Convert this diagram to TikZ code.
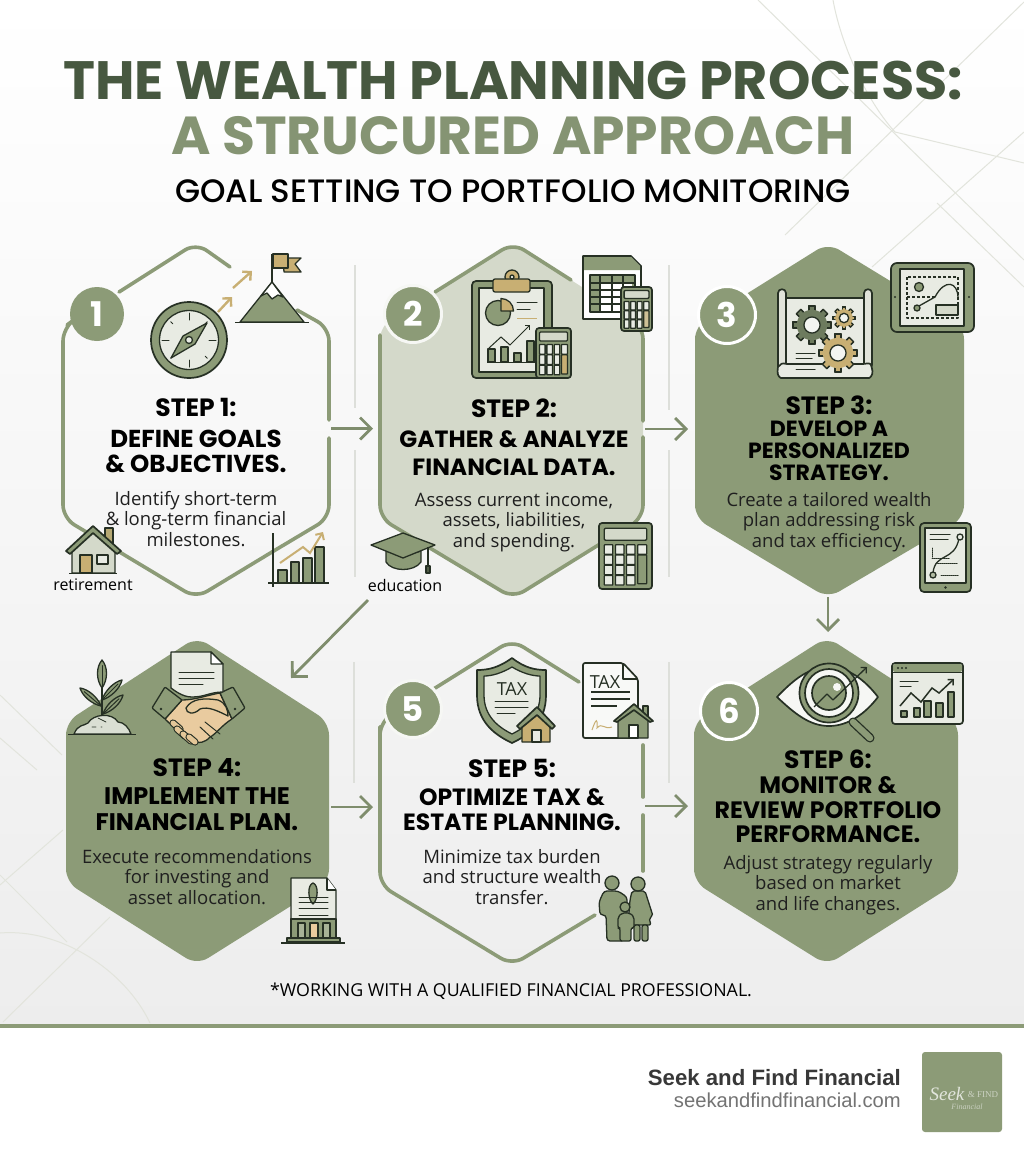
\documentclass[tikz,border=0pt]{standalone}
\usepackage{fontspec}
\usetikzlibrary{arrows.meta,calc}
\setmainfont{Poppins}[BoldFont=* Bold]
\newfontfamily\bodyf{Open Sans}
\newfontfamily\medf{Poppins}[UprightFont=* Medium]
\newfontfamily\footf{Liberation Sans}
\newfontfamily\serifscr{Liberation Serif}
\definecolor{sage}{HTML}{8C9B77}
\definecolor{sagepale}{HTML}{D4D9CA}
\definecolor{dk}{HTML}{263024}
\definecolor{titledk}{HTML}{475840}
\definecolor{titlelt}{HTML}{859473}
\definecolor{tanc}{HTML}{C8AF73}
\definecolor{peach}{HTML}{E9CB9F}
\definecolor{pale}{HTML}{E8EBE3}
\definecolor{arrowc}{HTML}{7F8D6D}
\definecolor{faint}{HTML}{E2E4DC}
\definecolor{sep}{HTML}{DDDFDA}
\tikzset{
  hexline/.style={draw=sage,line width=3.6pt,rounded corners=13pt,line cap=round},
  hexfill/.style={fill=sage,rounded corners=13pt},
  conn/.style={draw=arrowc,line width=2.8pt,-{Straight Barb[length=11pt,width=22pt,line width=2.8pt]}},
  bgline/.style={draw=faint,line width=1pt},
  sepline/.style={draw=sep,line width=1.4pt},
  badge/.style={circle,fill=sage,text=white,minimum size=54pt,inner sep=0pt,font=\fontsize{34}{34}\selectfont\bfseries},
  ringbadge/.style={badge,draw=white,line width=3pt,minimum size=57pt},
  stephead/.style={font=\fontsize{25}{25}\selectfont\bfseries,text=black,inner sep=0pt},
  steptitle/.style={font=\fontsize{24}{26}\selectfont\bfseries,text=black,align=center,inner sep=0pt},
  stepbody/.style={font=\bodyf\fontsize{18.5}{20.5}\selectfont,text=black!88,align=center,inner sep=0pt},
  ol/.style={draw=dk,line width=1.3pt,line join=round},
  olb/.style={draw=dk,line width=1.7pt,line join=round},
  thin/.style={draw=dk,line width=1pt,line cap=round},
  iconlabel/.style={font=\bodyf\fontsize{16}{16}\selectfont,text=black,inner sep=0pt},
}
% leaf between two points
\newcommand\leafw[6]{\draw[ol,fill=#6] (#1,#2) .. controls ($(#1,#2)!.3!(#3,#4)!#5pt!90:(#3,#4)$) and ($(#1,#2)!.75!(#3,#4)!#5pt!90:(#3,#4)$) .. (#3,#4) .. controls ($(#1,#2)!.75!(#3,#4)!#5pt!-90:(#3,#4)$) and ($(#1,#2)!.3!(#3,#4)!#5pt!-90:(#3,#4)$) .. cycle;
\draw[thin] (#1,#2) -- ($(#1,#2)!.8!(#3,#4)$);}
% gear: cx cy r fill
\newcommand\gearic[4]{%
  \foreach \a in {0,45,...,315}{%
    \draw[ol,fill=#4,rotate around={\a:(#1,#2)}] ({#1-#3*.2},{#2-#3*1.22}) rectangle ({#1+#3*.2},{#2+#3*1.22});}
  \fill[#4] (#1,#2) circle ({#3*.98});
  \draw[ol,fill=white!90!sage] (#1,#2) circle ({#3*.52});}
% calculator: x y w h tallcolor rows
\newcommand\calcic[6]{%
  \begin{scope}[shift={(#1,#2)},x=#3pt,y=-#4pt]
    \draw[olb,fill=sage,rounded corners=3pt] (0,0) rectangle (1,1);
    \draw[ol,fill=sagepale,rounded corners=1pt] (.1,.08) rectangle (.9,.26);
    \pgfmathsetmacro\kh{.58/#6}
    \foreach \r in {1,...,#6}{%
      \pgfmathsetmacro\yy{.33+(\r-1)*.62/#6}
      \foreach \c in {0,1,2}{%
        \pgfmathsetmacro\xx{.1+\c*.21}
        \draw[ol,fill=pale,rounded corners=.5pt] (\xx,\yy) rectangle ({\xx+.16},{\yy+\kh});}}
    \draw[ol,fill=pale,rounded corners=.5pt] (.73,.33) rectangle (.9,{.33+\kh});
    \draw[ol,fill=#5,rounded corners=.5pt] (.73,{.33+.62/#6}) rectangle (.9,{.33+.62-.03});
  \end{scope}}
\newcommand\fingers[4]{\draw[dk,line width=7.2pt,line cap=round] (#1,#2) -- (#3,#4); \draw[peach!85!tanc,line width=5pt,line cap=round] (#1,#2) -- (#3,#4);}
\begin{document}
\begin{tikzpicture}[x=1pt,y=-1pt]
\useasboundingbox (0,0) rectangle (1024,1154);
% ---------- background
\shade[shading angle=70,top color=white,bottom color=black!7!white] (0,0) rectangle (1024,1026);
\fill[white] (0,1027) rectangle (1024,1154);
\fill[sage] (0,1024) rectangle (1024,1027.5);
% faint lines
\draw[bgline] (758,0) -- (1024,260);
\draw[bgline] (833,0) .. controls (842,50) and (870,105) .. (895,132);
\draw[bgline] (1024,2) -- (785,235);
\draw[bgline] (895,132) -- (1024,163);
\draw[bgline] (1024,132) -- (872,267);
\draw[bgline] (937,203) -- (1024,287);
\draw[bgline] (0,695) -- (62,755);
\draw[bgline] (0,738) -- (37,770);
\draw[bgline] (63,830) -- (0,885);
\draw[bgline] (0,875) -- (67,942);
\draw[bgline] (110,917) -- (3,1022);
\draw[bgline] (0,933) .. controls (60,928) and (125,970) .. (150,1023);
% separators
\draw[sepline] (355,265) -- (355,408);
\draw[sepline] (355,450) -- (355,577);
\draw[sepline] (669,265) -- (669,410);
\draw[sepline] (669,450) -- (669,577);
\draw[sepline] (354,662) -- (354,783);
\draw[sepline] (669,662) -- (669,783);
% ---------- hexagon fills
\path[hexfill,fill=sagepale] (513,243) -- (643,326) -- (643,518) -- (513,598) -- (380,518) -- (380,326) -- cycle;
\path[hexfill] (828,243) -- (964,326) -- (964,518) -- (828,598) -- (695,518) -- (695,326) -- cycle;
\path[hexfill] (197,637) -- (329,722) -- (329,882) -- (197,965) -- (66,882) -- (66,722) -- cycle;
\path[hexfill] (827,637) -- (958,722) -- (958,882) -- (827,965) -- (694,882) -- (694,722) -- cycle;
% ---------- hexagon outlines in pieces
\coordinate (h1t) at (196,243);
\draw[hexline] (119,292) -- (h1t) -- (230,267);
\draw[hexline] (297,310) -- (329,328) -- (329,420);
\draw[hexline] (329,438) -- (329,518) -- (272,552);
\draw[hexline] (272,552) -- (196,598) -- (63,518) -- (63,328) -- (67,325);
\draw[hexline] (435,292) -- (513,243) -- (571,280);
\draw[hexline] (643,421) -- (643,326) -- (636,322);
\draw[hexline] (643,437) -- (643,518) -- (600,544);
\draw[hexline] (380,335) -- (380,518) -- (513,598) -- (600,544);
\draw[hexline] (432,690) -- (512,640) -- (579,682);
\draw[hexline] (643,745) -- (643,797);
\draw[hexline] (643,815) -- (643,871);
\draw[hexline] (380,727) -- (380,885) -- (512,965) -- (595,915);
\draw[hexline] (380,727) -- (380,722) -- (386,718);
% ---------- arrows
\coordinate (a1s) at (331,428.5); \coordinate (a1e) at (373,428.5);
\coordinate (a2s) at (645,429); \coordinate (a2e) at (688,429);
\coordinate (a3s) at (828,597); \coordinate (a3e) at (828,632);
\coordinate (a4s) at (368,600); \coordinate (a4e) at (291,678);
\coordinate (a5s) at (331,807); \coordinate (a5e) at (373,807);
\coordinate (a6s) at (645,806); \coordinate (a6e) at (688,806);
\draw[conn] (a1s) -- (a1e);
\draw[conn] (a2s) -- (a2e);
\draw[conn] (a3s) -- (a3e);
\draw[conn] (a4s) -- (a4e);
\draw[conn] (a5s) -- (a5e);
\draw[conn] (a6s) -- (a6e);
% ---------- badges
\node[badge] (b1) at (97,314) {1};
\node[ringbadge,draw=white!92!sage] (b2) at (413,314) {2};
\node[ringbadge] (b3) at (727,315) {3};
\node[badge,draw=white!92!sage,line width=3pt,minimum size=57pt] (b5) at (413,709) {5};
\node[ringbadge] (b6) at (729,711) {6};
% ---------- title
\node[font=\fontsize{54}{54}\selectfont\bfseries,text=titledk,inner sep=0pt] (t1) at (513,80) {THE WEALTH PLANNING PROCESS:};
\node[font=\fontsize{53.5}{54}\selectfont\bfseries,text=titlelt,inner sep=0pt] (t2) at (513,136) {A STRUCURED APPROACH};
\node[font=\medf\fontsize{32.4}{33}\selectfont,text=black,inner sep=0pt] (t3) at (513,191) {GOAL SETTING TO PORTFOLIO MONITORING};
% ---------- step texts
\node[stephead] (s1a) at (196,407) {STEP 1:};
\node[steptitle,font=\fontsize{24.5}{25}\selectfont\bfseries] (s1t) at (196,451) {DEFINE GOALS\\\& OBJECTIVES.};
\node[stepbody] (s1b) at (196,519) {Identify short-term\\\& long-term financial\\milestones.};
\node[stephead] (s2a) at (514,408) {STEP 2:};
\node[steptitle,font=\fontsize{23.5}{28}\selectfont\bfseries] (s2t) at (514,453) {GATHER \& ANALYZE\\FINANCIAL DATA.};
\node[stepbody] (s2b) at (514,522) {Assess current income,\\assets, liabilities,\\and spending.};
\node[stephead] (s3a) at (829,405) {STEP 3:};
\node[steptitle,font=\fontsize{22}{22}\selectfont\bfseries] (s3t) at (829,451) {DEVELOP A\\PERSONALIZED\\STRATEGY.};
\node[stepbody] (s3b) at (829,522) {Create a tailored wealth\\plan addressing risk\\and tax efficiency.};
\node[stephead] (s4a) at (197,768) {STEP 4:};
\node[steptitle] (s4t) at (197,809.5) {IMPLEMENT THE\\FINANCIAL PLAN.};
\node[stepbody] (s4b) at (197,877) {Execute recommendations\\for investing and\\asset allocation.};
\node[stephead] (s5a) at (512,768) {STEP 5:};
\node[steptitle,font=\fontsize{23.5}{25.5}\selectfont\bfseries] (s5t) at (512,809.5) {OPTIMIZE TAX \&\\ESTATE PLANNING.};
\node[stepbody] (s5b) at (512,877) {Minimize tax burden\\and structure wealth\\transfer.};
\node[stephead] (s6a) at (828,759) {STEP 6:};
\node[steptitle,font=\fontsize{23.7}{24.5}\selectfont\bfseries] (s6t) at (828,810) {MONITOR \&\\REVIEW PORTFOLIO\\PERFORMANCE.};
\node[stepbody] (s6b) at (828,885) {Adjust strategy regularly\\based on market\\and life changes.};
% ---------- icons step 1
\draw[olb,fill=sage] (189,340) circle (38);
\draw[ol,fill=pale] (189,340) circle (29.5);
\foreach \a in {0,90,180,270}{\draw[thin,rotate around={\a:(189,340)}] (189,313) -- (189,320);}
\foreach \a in {45,135,225,315}{\draw[thin,rotate around={\a:(189,340)}] (189,314) -- (189,317);}
\draw[ol,fill=sage] (207,323) -- (183,336) -- (171,358) -- (195,344) -- cycle;
\draw[ol,fill=pale] (189,340) circle (3.5);
\draw[tanc,line width=2.4pt,-{Straight Barb[length=6pt,width=12pt,line width=2.4pt]}] (218,312) -- (232,297);
\draw[tanc,line width=2.4pt,-{Straight Barb[length=6pt,width=12pt,line width=2.4pt]}] (233,288) -- (252,271);
\draw[ol,fill=sage] (240,322) -- (272,282) -- (304,322) -- cycle;
\draw[ol,fill=white] (272,282) -- (261,296) -- (267,293) -- (272,299) -- (278,295) -- (283,297) -- cycle;
\draw[ol] (235,322.5) -- (309,322.5);
\draw[ol] (272,282) -- (272,254);
\draw[ol,fill=tanc] (283,258) -- (301,258) -- (295,264) -- (301,272) -- (284,272) -- cycle;
\draw[ol,fill=tanc] (273,254) rectangle (288,268);
% house
\draw[ol,fill=tanc!70!sage] (105,528) rectangle (113,545);
\draw[ol,fill=sagepale] (72,547) -- (93,530) -- (115,547) -- (115,573) -- (72,573) -- cycle;
\draw[olb,fill=sage,line join=round] (66,551) -- (93,526) -- (121,551) -- (117,554) -- (93,533) -- (70,554) -- cycle;
\draw[ol,fill=tanc] (80,555) rectangle (92,573);
\draw[ol,fill=pale] (97,555) rectangle (108,564);
\draw[olb] (69,573.5) -- (117,573.5);
\node[iconlabel] (l1) at (93,585) {retirement};
% bars chart
\draw[ol,fill=sage] (278,570) rectangle (287,583);
\draw[ol,fill=sage] (291,562) rectangle (299,583);
\draw[ol,fill=sage] (303,558) rectangle (312,583);
\draw[ol,fill=sage] (315,547) rectangle (324,583);
\draw[ol] (273,533) -- (273,587);
\draw[ol] (268,583) -- (329,583);
\draw[tanc,line width=2pt,-{Straight Barb[length=5pt,width=10pt,line width=2pt]}] (280,563) -- (303,547) -- (310,553) -- (323,532);
% ---------- icons step 2
\draw[olb,fill=sage,rounded corners=4pt] (472,281) rectangle (552,378);
\draw[ol,fill=pale] (479,288) rectangle (544,372);
\draw[ol,fill=tanc] (512,277) circle (7);
\draw[ol,fill=tanc,rounded corners=2pt] (493,279) rectangle (530,292);
\draw[ol,fill=pale] (512,277) circle (2);
\draw[ol,fill=sage] (498,313) circle (12.5);
\draw[ol,fill=tanc] (501,311) -- (501,298.5) .. controls (508,298.5) and (513.5,304) .. (513.5,311) -- cycle;
\draw[thin] (517,302) -- (537,302);
\draw[thin] (517,309) -- (530,309);
\draw[tanc,line width=1pt] (517,318) -- (537,318);
\foreach \xa/\ya in {488/349,501/347,514/353,527/341}{\draw[ol,fill=sage] (\xa,\ya) rectangle ({\xa+7},362);}
\draw[ol] (487,362.5) -- (536,362.5);
\draw[thin,-{Straight Barb[length=3pt,width=6pt]}] (489,348) -- (501,337) -- (510,345) -- (530,325);
\calcic{536}{328}{35}{50}{tanc}{3}
% spreadsheet
\draw[olb,fill=white] (583,256) -- (631,256) -- (641,266) -- (641,319) -- (583,319) -- cycle;
\fill[sage] (584,257) -- (631,257) -- (640,266) -- (640,270) -- (584,270) -- cycle;
\draw[ol,fill=sage] (590,275) rectangle (635,312);
\fill[white] (600,283) rectangle (632,311);
\draw[ol] (590,283) -- (635,283) (590,290) -- (635,290) (590,297) -- (635,297) (590,304) -- (635,304) (600,275) -- (600,312) (612,275) -- (612,312) (623,275) -- (623,312);
\calcic{621}{287}{31}{44}{tanc!60!sagepale}{3}
\calcic{599}{523}{53}{66}{sage}{4}
% graduation cap
\draw[ol,fill=sage] (386,551) -- (386,562) .. controls (392,572) and (414,572) .. (421,562) -- (421,551) -- (403,556) -- cycle;
\draw[ol,fill=sage] (371,545) -- (403,533) -- (435,545) -- (403,558) -- cycle;
\draw[ol] (428,547) -- (428,565);
\draw[ol,fill=dk!60!sage] (426,566) rectangle (430,573);
\node[iconlabel] (l2) at (405,585) {education};
% ---------- icons step 3
\draw[olb,fill=pale] (786,298) -- (864,298) -- (864,364) -- (786,364) -- cycle;
\draw[olb,fill=sagepale!70!white,rounded corners=3pt] (778,368) -- (778,296) .. controls (778,288) and (786,288) .. (786,296) -- (786,370) -- cycle;
\draw[olb,fill=sagepale!70!white,rounded corners=3pt] (872,368) -- (872,296) .. controls (872,288) and (864,288) .. (864,296) -- (864,370) -- cycle;
\draw[olb,fill=pale,rounded corners=3pt] (778,368) .. controls (782,362) and (785,364) .. (790,364) -- (860,364) .. controls (866,364) and (870,362) .. (872,368) .. controls (873,375) and (870,378) .. (866,378) -- (784,378) .. controls (780,378) and (777,375) .. (778,368) -- cycle;
\gearic{812}{325}{15.5}{sage!70!dk}
\gearic{844}{318}{9}{tanc}
\gearic{838}{353}{15.5}{tanc}
\draw[thin] (796,353) -- (815,353) (796,358) -- (812,358) (796,364) -- (815,364) (796,369) -- (815,369);
% tablet
\draw[olb,fill=sage,rounded corners=6pt] (891,263) rectangle (974,332);
\draw[olb,fill=pale] (900,269) rectangle (964,326);
\draw[ol,densely dashed] (907,277) rectangle (958,318);
\draw[ol,densely dashed] (907,297) -- (935,297);
\draw[ol,fill=sage] (919,287) circle (4.5);
\draw[ol,fill=sage] (917,308) circle (3);
\draw[ol] (919,306) -- (935,297) .. controls (945,278) and (958,282) .. (958,298);
\draw[ol,fill=sagepale] (936,305) rectangle (958,315);
\fill[dk] (969,297) circle (1.2); \fill[dk] (895,297) circle (1.2);
% tablet 2
\draw[olb,fill=sage,rounded corners=4pt] (920,523) rectangle (971,592);
\draw[ol,fill=pale] (925,528) rectangle (966,583);
\fill[dk] (945.5,587.5) circle (1.4);
\draw[thin] (930,534) -- (950,534) (930,539) -- (948,539);
\draw[thin,densely dotted] (932,548) -- (932,558) -- (950,558);
\draw[thin,densely dotted] (936,563) -- (958,563) (941,575) -- (958,575);
\draw[ol] (933,573) .. controls (935,552) and (955,562) .. (959,538);
\draw[ol,fill=pale] (960,537) circle (3);
\draw[ol,fill=sage!60!pale] (933,575) circle (3);
% ---------- icons step 4
\draw[ol,fill=pale!85!sage] (74,734) .. controls (78,724) and (84,726) .. (88,723) .. controls (93,714) and (112,712) .. (118,722) .. controls (124,722) and (129,728) .. (131,734) -- cycle;
\draw[ol] (68,734.5) -- (136,734.5);
\draw[thin,line width=.8pt] (92,727) -- (96,727) (101,727) -- (102,727) (98,718) -- (106,722);
\draw[ol] (102,716) -- (102,676);
\leafw{102}{688}{102}{660}{6}{sage}
\leafw{101}{706}{80}{688}{4.5}{sage}
\leafw{102}{700}{122}{680}{4.5}{sage}
\leafw{103}{714}{123}{695}{4.5}{sage}
% handshake
\draw[ol,fill=peach] (165,719) -- (182,700) .. controls (195,700) and (208,695) .. (220,693) -- (232,719) .. controls (222,725) and (215,735) .. (210,737) .. controls (205,743) and (198,743) .. (197,742) .. controls (188,738) and (176,730) .. (165,719) -- cycle;
\draw[ol,fill=peach!92!tanc] (186,708) .. controls (192,698) and (205,698) .. (218,700) .. controls (226,703) and (228,710) .. (228,716) .. controls (218,711) and (208,706) .. (200,709) .. controls (194,715) and (186,714) .. (186,708) -- cycle;
\draw[thin] (205,722) -- (220,734) (200,727) -- (213,739);
\fingers{173}{723}{180}{729}
\fingers{177}{729}{185}{736}
\fingers{183}{734}{191}{741}
\fingers{189}{737}{195}{742}
\draw[ol,fill=sage,rounded corners=1pt] (152,708) -- (165,687) -- (182,700) -- (165,719) -- cycle;
\draw[ol,fill=sage,rounded corners=1pt] (220,693) -- (233,687) -- (245,708) -- (232,719) -- cycle;
\fill[dk] (161,709) circle (1.3);
\fill[dk] (235,709) circle (1.3);
\draw[ol,fill=pale] (171,652) -- (211,652) -- (223,664) -- (223,692) .. controls (210,692) and (205,697) .. (192,697) .. controls (182,697) and (174,690) .. (171,688) -- cycle;
\draw[ol,fill=white] (211,652) -- (211,664) -- (223,664) -- cycle;
\draw[thin] (179,672) -- (214,672) (179,678) -- (214,678) (179,684) -- (203,684);
% bank doc
\draw[ol,fill=pale] (291,878) -- (327,878) -- (336,890) -- (336,925) -- (291,925) -- cycle;
\draw[ol,fill=white] (327,878) -- (327,890) -- (336,890);
\draw[ol,fill=sage] (313,883) .. controls (307,885) and (308,900) .. (313,904) .. controls (318,900) and (319,885) .. (313,883) -- cycle;
\draw[thin] (299,897) -- (328,897) (299,902) -- (328,902) (299,908) -- (328,908) (299,915) -- (328,915);
\draw[ol,fill=sage] (291,919) rectangle (336,938);
\draw[ol,fill=peach] (310,923) rectangle (318,938);
\draw[ol,fill=sage!70!pale] (298,923) rectangle (305,938);
\draw[ol,fill=sage!70!pale] (323,923) rectangle (330,938);
\draw[ol,fill=sage] (287,938) rectangle (340,942);
\draw[ol] (281,943) -- (345,943);
% ---------- icons step 5
\draw[olb,fill=sage] (512,658) .. controls (498,668) and (488,670) .. (477,670) -- (477,695) .. controls (477,722) and (495,735) .. (512,743) .. controls (529,735) and (546,722) .. (546,695) -- (546,670) .. controls (535,670) and (525,668) .. (512,658) -- cycle;
\draw[ol,fill=pale] (512,667) .. controls (502,673) and (492,676) .. (484,676) -- (484,695) .. controls (484,716) and (498,727) .. (512,734) .. controls (526,727) and (540,716) .. (540,695) -- (540,676) .. controls (532,676) and (522,673) .. (512,667) -- cycle;
\node[font=\bodyf\fontsize{18}{18}\selectfont,text=dk,inner sep=0pt] (taxa) at (512,689) {TAX};
\draw[thin] (495,701) -- (528,701) (495,707) -- (528,707) (497,713) -- (515,713);
\draw[ol,fill=tanc] (522,725) -- (537,711) -- (550,725) -- (550,742) -- (522,742) -- cycle;
\draw[olb,fill=sage] (517,726) -- (537,707) -- (555,726) -- (552,729) -- (537,715) -- (520,729) -- cycle;
\draw[ol,fill=pale] (532,730) rectangle (541,742);
\draw[olb,fill=white!70!pale,rounded corners=2pt] (583,663) -- (623,663) -- (638,679) -- (638,738) -- (583,738) -- cycle;
\draw[ol] (623,663) -- (623,679) -- (638,679);
\node[font=\bodyf\fontsize{18}{18}\selectfont,text=dk,inner sep=0pt] (taxb) at (605,682) {TAX};
\draw[ol] (591,692) -- (630,692) (591,699) -- (630,699) (591,706) -- (617,706);
\draw[tanc,line width=1pt] (592,730) .. controls (596,718) and (598,718) .. (597,728) .. controls (602,722) and (604,730) .. (612,727);
\draw[ol,fill=sage] (618,720) -- (634,708) -- (648,720) -- (648,738) -- (618,738) -- cycle;
\draw[ol,fill=sage] (643,706) rectangle (648,716);
\draw[olb,fill=sage] (614,721) -- (634,704) -- (653,721) -- (650,722) -- (634,710) -- (617,722) -- cycle;
\draw[ol,fill=white] (629,725) rectangle (638,738);
% family
\draw[ol,fill=sage,rounded corners=3pt] (600,915) -- (599,902) -- (604,891) -- (618,891) -- (627,897) -- (627,925) -- (624,941) -- (607,941) -- (606,915) -- cycle;
\draw[ol,fill=sage] (612,883) circle (7);
\draw[ol,fill=sage,rounded corners=2pt] (628,925) -- (630,900) -- (632,891) -- (645,891) -- (653,916) -- (649,918) -- (651,925) -- cycle;
\draw[ol,fill=sage,rounded corners=2pt] (634,925) rectangle (640,941);
\draw[ol,fill=sage,rounded corners=2pt] (642,925) rectangle (648,941);
\draw[ol,fill=sage] (638,884) circle (7);
\draw[ol,fill=sage,rounded corners=2pt] (618,928) -- (618,917) -- (622,913) -- (630,913) -- (634,917) -- (634,928) -- (631,928) -- (631,941) -- (620,941) -- (620,928) -- cycle;
\draw[ol,fill=sage] (625,907) circle (5);
% ---------- icons step 6
\draw[olb,fill=white!92!sage] (777,697) .. controls (795,678) and (810,667) .. (829,667) .. controls (848,667) and (865,680) .. (878,697) .. controls (865,714) and (848,726) .. (829,726) .. controls (810,726) and (795,714) .. (777,697) -- cycle;
\draw[draw=dk,line width=9pt,line cap=round] (853,722) -- (870,738);
\draw[sage,line width=6.4pt,line cap=round] (853,722) -- (870,738);
\draw[olb,fill=sage] (829,693) circle (29.5);
\draw[olb,fill=white!92!sage] (829,693) circle (24);
\draw[olb,fill=sage] (829,693) circle (17);
\fill[white!92!sage] (837,687) circle (4);
\draw[ol,-{Straight Barb[length=4pt,width=8pt]}] (814,707) -- (827,694) -- (833,700) -- (867,667);
\draw[olb,fill=pale,rounded corners=3pt] (892,663) rectangle (963,724);
\fill[sage,rounded corners=2pt] (893,664) rectangle (962,672);
\draw[ol] (892,672.5) -- (963,672.5);
\foreach \xb in {898,902,906}{\fill[dk] (\xb,668) circle (1.1);}
\draw[thin] (900,681) -- (918,681) (900,686) -- (911,686);
\draw[ol,fill=sage] (901,711) rectangle (907,717);
\draw[ol,fill=sage] (914,708) rectangle (920,717);
\draw[ol,fill=sage] (924,701) rectangle (931,717);
\draw[ol,fill=sage] (936,703) rectangle (943,717);
\draw[ol,fill=sage] (948,692) rectangle (954,717);
\draw[draw=dk,line width=1.5pt,-{Straight Barb[length=4pt,width=8pt]}] (900,706) -- (911,693) -- (921,702) -- (932,688) -- (939,693) -- (954,679);
% ---------- footnote
\node[font=\bodyf\fontsize{17.8}{18}\selectfont,text=black,inner sep=0pt] (note) at (511,991) {*WORKING WITH A QUALIFIED FINANCIAL PROFESSIONAL.};
% ---------- footer
\node[font=\footf\bfseries\fontsize{22.2}{23}\selectfont,text=black!78,anchor=east,inner sep=0pt] (brand) at (901,1078) {Seek and Find Financial};
\node[font=\footf\fontsize{20.2}{21}\selectfont,text=black!55,anchor=east,inner sep=0pt] (url) at (901,1100) {seekandfindfinancial.com};
\fill[sage,rounded corners=3pt] (922,1052) rectangle (1002,1132);
\begin{scope}
\clip (922,1052) rectangle (1002,1132);
\node[font=\serifscr\itshape\fontsize{19}{19}\selectfont,text=white,opacity=.75,inner sep=0pt] (logoa) at (947,1094) {Seek};
\node[font=\serifscr\fontsize{9}{9}\selectfont,text=white,opacity=.55,inner sep=0pt] (logob) at (983,1095) {\& FIND};
\node[font=\serifscr\itshape\fontsize{8}{8}\selectfont,text=white,opacity=.55,inner sep=0pt] (logoc) at (967,1107) {Financial};
\end{scope}
\end{tikzpicture}
\end{document}
